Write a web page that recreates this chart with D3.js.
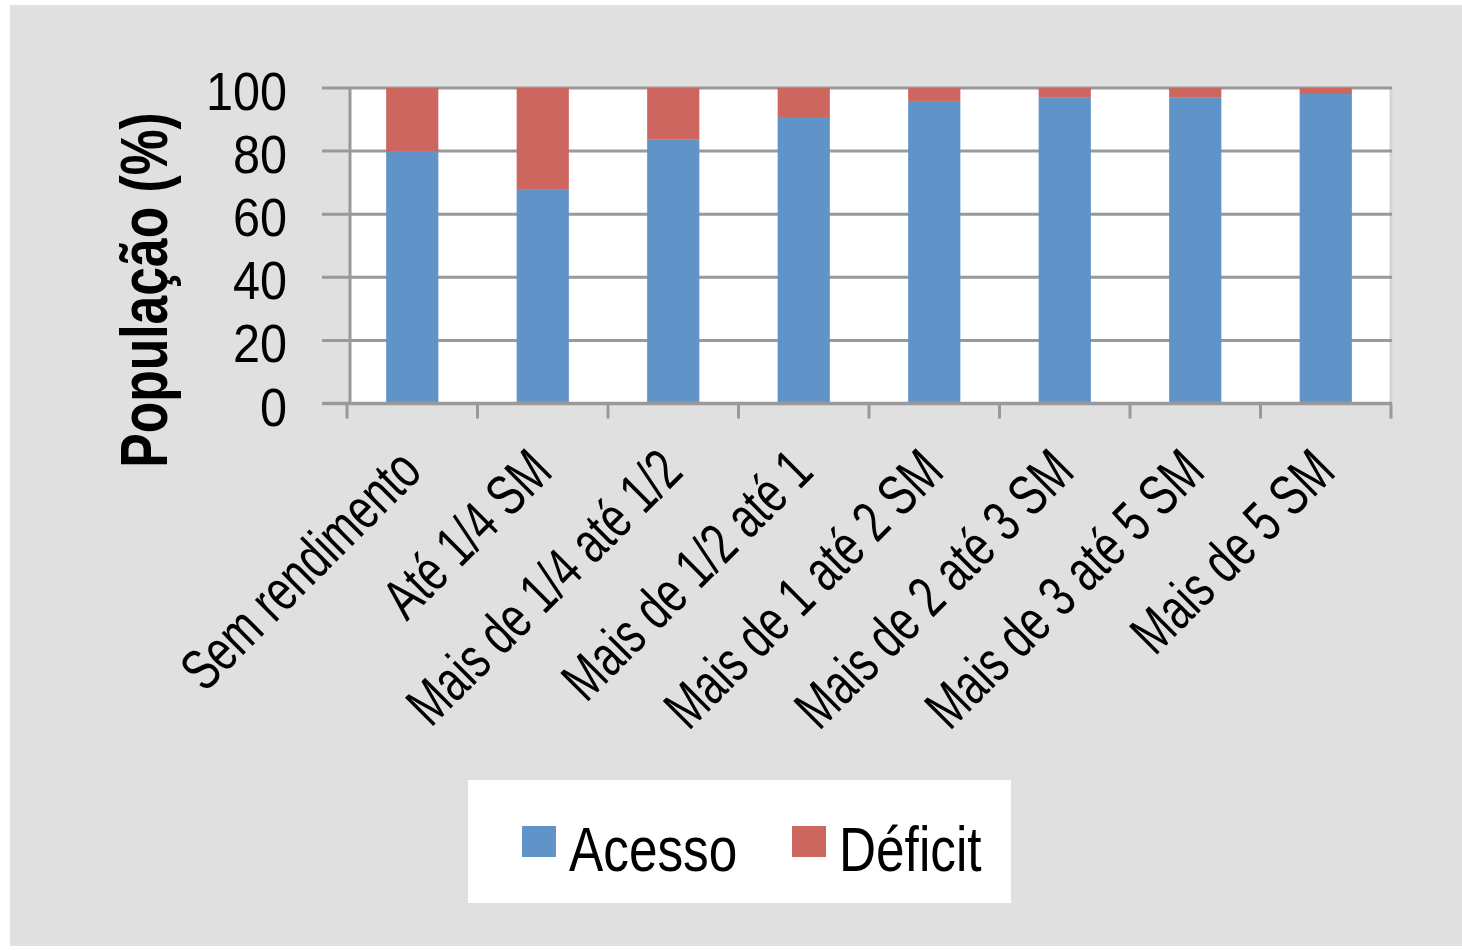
<!DOCTYPE html>
<html><head><meta charset="utf-8">
<script src="https://cdn.jsdelivr.net/npm/d3@7"></script>
<style>body{margin:0;background:#fff}svg{display:block}text{font-family:"Liberation Sans",Arial,sans-serif;fill:#000}</style>
</head><body>
<script>
const categories = ["Sem rendimento","Até 1/4 SM","Mais de 1/4 até 1/2","Mais de 1/2 até 1","Mais de 1 até 2 SM","Mais de 2 até 3 SM","Mais de 3 até 5 SM","Mais de 5 SM"];
const acesso = [80.0, 67.7, 83.6, 90.8, 95.9, 96.9, 96.9, 98.1];
const deficit = [20.0, 32.3, 16.4, 9.2, 4.1, 3.1, 3.1, 1.9];
const yTicks = [0, 20, 40, 60, 80, 100];
const seriesNames = ["Acesso", "Déficit"];
const colors = ["#6094c8", "#ce6660"];

const W = 1462, H = 950;
const svg = d3.select("body").append("svg").attr("width", W).attr("height", H);
svg.append("rect").attr("x", 10).attr("y", 5).attr("width", W - 10).attr("height", 941).attr("fill", "#e0e0e0");

const plotL = 350, plotR = 1390, plotT = 88, plotB = 403.5;
const y = d3.scaleLinear().domain([0, 100]).range([plotB, plotT]);
const x = d3.scaleBand().domain(categories).range([347, 1391]).paddingInner(0.6).paddingOuter(0.3);
const step = x.step();

svg.append("rect").attr("x", plotL).attr("y", plotT).attr("width", plotR - plotL).attr("height", plotB - plotT).attr("fill", "#fff");
svg.append("line").attr("x1", plotR + 1).attr("x2", plotR + 1).attr("y1", plotT).attr("y2", plotB).attr("stroke", "#d4d4d4").attr("stroke-width", 3);

// grid lines
svg.append("g").selectAll("line").data(yTicks).join("line")
  .attr("x1", 322).attr("x2", plotR + 2)
  .attr("y1", d => y(d)).attr("y2", d => y(d))
  .attr("stroke", "#999").attr("stroke-width", 3);

// bars
const stack = categories.map((c, i) => ({c, a: acesso[i], d: deficit[i]}));
const bars = svg.append("g");
bars.selectAll("rect.a").data(stack).join("rect").attr("class", "a")
  .attr("x", d => x(d.c)).attr("width", x.bandwidth())
  .attr("y", d => y(d.a)).attr("height", d => y(0) - y(d.a)).attr("fill", colors[0]);
bars.selectAll("rect.d").data(stack).join("rect").attr("class", "d")
  .attr("x", d => x(d.c)).attr("width", x.bandwidth())
  .attr("y", d => y(d.a + d.d)).attr("height", d => y(d.a) - y(d.a + d.d)).attr("fill", colors[1]);

// y axis line
svg.append("line").attr("x1", plotL).attr("x2", plotL).attr("y1", plotT).attr("y2", plotB).attr("stroke", "#999").attr("stroke-width", 3);
// x axis line
svg.append("line").attr("x1", 322).attr("x2", plotR + 2).attr("y1", plotB).attr("y2", plotB).attr("stroke", "#999").attr("stroke-width", 3.5);
// x ticks at band boundaries
const bounds = categories.map(c => x(c) - step * 0.3).concat([x(categories[categories.length - 1]) - step * 0.3 + step]);
svg.append("g").selectAll("line").data(bounds).join("line")
  .attr("x1", d => d).attr("x2", d => d).attr("y1", plotB).attr("y2", plotB + 15)
  .attr("stroke", "#999").attr("stroke-width", 3);

// y tick labels
svg.append("g").selectAll("g").data(yTicks).join("g")
  .attr("transform", d => `translate(287,${y(d) + 22}) scale(0.9,1)`)
  .append("text").attr("text-anchor", "end").attr("font-size", 54).text(d => d);

// y axis title
svg.append("g").attr("transform", "translate(167,290) rotate(-90) scale(0.77,1)")
  .append("text").attr("text-anchor", "middle").attr("font-size", 67).attr("font-weight", "bold").text("População (%)");

// category labels
svg.append("g").selectAll("g").data(categories).join("g")
  .attr("transform", d => `translate(${x(d) + x.bandwidth() / 2 + 12},474) rotate(-45) scale(0.73,1)`)
  .append("text").attr("text-anchor", "end").attr("font-size", 58).text(d => d);

// legend
svg.append("rect").attr("x", 468).attr("y", 780).attr("width", 543).attr("height", 123).attr("fill", "#fff");
const legX = [522, 792];
const lg = svg.append("g").selectAll("g").data(seriesNames).join("g");
lg.append("rect").attr("x", (d, i) => legX[i]).attr("y", 826).attr("width", 34).attr("height", 31).attr("fill", (d, i) => colors[i]);
lg.append("g").attr("transform", (d, i) => `translate(${legX[i] + 47},871) scale(0.815,1)`)
  .append("text").attr("font-size", 63).text(d => d);
</script>
</body></html>
